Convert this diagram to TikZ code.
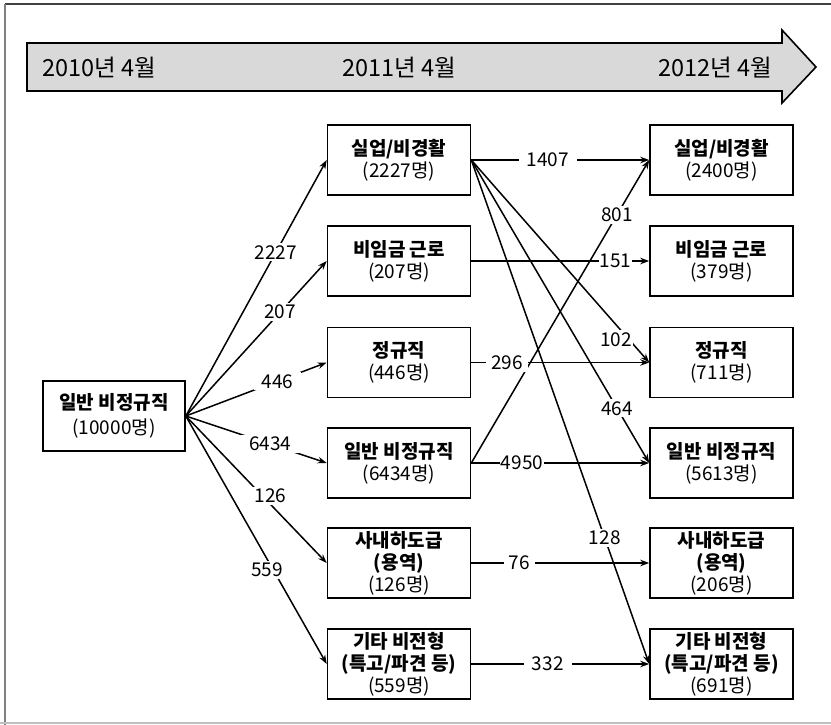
\documentclass[tikz,border=0pt]{standalone}
\usepackage{fontspec}
\setmainfont{Noto Sans CJK KR}
\usetikzlibrary{arrows.meta}
\definecolor{bannergray}{HTML}{D9D9D9}
\tikzset{
  box/.style={draw=black, line width=1.6pt, minimum width=143pt, minimum height=70pt, inner sep=0pt, align=center, font=\fontsize{19}{22}\selectfont},
  flow/.style={line width=1.5pt, -{Stealth[length=9pt,width=6.5pt]}},
  lbl/.style={fill=white, inner xsep=5pt, inner ysep=2pt, font=\fontsize{19}{20}\selectfont},
  tight/.style={inner xsep=1pt},
  wide/.style={inner xsep=8pt},
  yr/.style={font=\fontsize{23.5}{26}\selectfont, inner sep=0pt}
}
\begin{document}
\begin{tikzpicture}[x=1pt,y=-1pt]
\useasboundingbox (0,0) rectangle (831,725);
% frame
\draw[draw=black!75, line width=1.2pt] (5,4) -- (831,4);
\draw[draw=black!50, line width=1.5pt] (5,4) -- (5,725);
\draw[draw=black!25, line width=1.2pt] (0,723) -- (831,723);
% banner
\draw[fill=bannergray, line width=1.6pt, line join=miter] (27,43) -- (782,43) -- (782,30) -- (816,67) -- (782,103) -- (782,91) -- (27,91) -- cycle;
\node[yr, anchor=west] (y1) at (42,68) {2010년 4월};
\node[yr] (y2) at (399,68) {2011년 4월};
\node[yr] (y3) at (715,68) {2012년 4월};
% left
\node[box, minimum width=142pt] (L) at (114,416) {\textbf{일반 비정규직}\\[3pt](10000명)};
% middle
\node[box] (m1) at (399,160) {\textbf{실업/비경활}\\(2227명)};
\node[box] (m2) at (399,261) {\textbf{비임금 근로}\\(207명)};
\node[box] (m3) at (399,362.5) {\textbf{정규직}\\(446명)};
\node[box] (m4) at (399,463) {\textbf{일반 비정규직}\\(6434명)};
\node[box] (m5) at (399,563) {\textbf{사내하도급}\\\textbf{(용역)}\\(126명)};
\node[box] (m6) at (399,664) {\textbf{기타 비전형}\\\textbf{(특고/파견 등)}\\(559명)};
% right
\node[box] (r1) at (721.5,160) {\textbf{실업/비경활}\\(2400명)};
\node[box] (r2) at (721.5,261) {\textbf{비임금 근로}\\(379명)};
\node[box] (r3) at (721.5,362.5) {\textbf{정규직}\\(711명)};
\node[box] (r4) at (721.5,463) {\textbf{일반 비정규직}\\(5613명)};
\node[box] (r5) at (721.5,563) {\textbf{사내하도급}\\\textbf{(용역)}\\(206명)};
\node[box] (r6) at (721.5,664) {\textbf{기타 비전형}\\\textbf{(특고/파견 등)}\\(691명)};
% left fan
\draw[flow] (L.east) -- node[lbl, pos=0.64] {2227} (m1.west);
\draw[flow] (L.east) -- node[lbl, pos=0.67] {207} (m2.west);
\draw[flow] (L.east) -- node[lbl, pos=0.65, wide] {446} (m3.west);
\draw[flow] (L.east) -- node[lbl, pos=0.6, wide] {6434} (m4.west);
\draw[flow] (L.east) -- node[lbl, pos=0.6, yshift=8pt] {126} (m5.west);
\draw[flow] (L.east) -- node[lbl, pos=0.62, xshift=-6pt] {559} (m6.west);
% middle to right
\draw[flow] (m1.east) -- node[lbl, tight, pos=0.886, xshift=-13pt] {102} (r3.west);
\draw[flow] (m1.east) -- node[lbl, tight, pos=0.82] {464} (r4.west);
\draw[flow] (m1.east) -- node[lbl, tight, pos=0.75] {128} (r6.west);
\draw[flow] (m4.east) -- node[lbl, tight, pos=0.82] {801} (r1.west);
\draw[flow] (m1.east) -- node[lbl, wide, pos=0.43] {1407} (r1.west);
\draw[flow] (m2.east) -- node[lbl, tight, pos=0.81] {151} (r2.west);
\draw[flow] (m3.east) -- node[lbl, pos=0.2] {296} (r3.west);
\draw[flow] (m4.east) -- node[lbl, tight, pos=0.285] {4950} (r4.west);
\draw[flow] (m5.east) -- node[lbl, pos=0.27] {76} (r5.west);
\draw[flow] (m6.east) -- node[lbl, wide, pos=0.43] {332} (r6.west);
\end{tikzpicture}
\end{document}
